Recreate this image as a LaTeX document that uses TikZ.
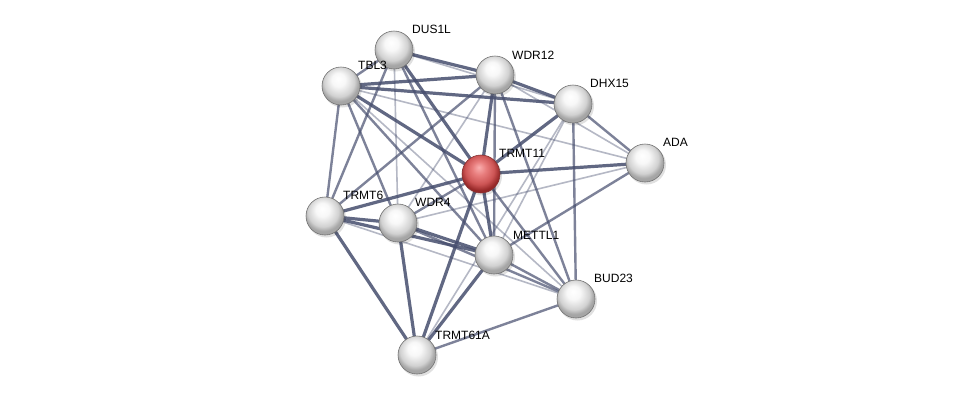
\documentclass[tikz,border=0pt]{standalone}
\usepackage{fontspec}
\setmainfont{Liberation Sans}
\begin{document}
\begin{tikzpicture}[x=1pt,y=-1pt,
  ew/.style={draw=edgec,line width=3.2pt,opacity=0.85},
  em/.style={draw=edgec,line width=2.4pt,opacity=0.7},
  el/.style={draw=edgec,line width=1.6pt,opacity=0.4},
  ball/.style={circle,minimum size=38pt,inner sep=0pt,draw=black!55,line width=0.6pt,shading=wball},
  rball/.style={ball,shading=rball,draw=red!40!black!80},
  lab/.style={font=\fontsize{12}{14}\selectfont,text=black,anchor=south west,inner sep=1pt}]
\definecolor{edgec}{RGB}{70,78,110}
\definecolor{rA}{RGB}{250,175,175}
\definecolor{rB}{RGB}{232,125,125}
\definecolor{rC}{RGB}{205,85,85}
\definecolor{rD}{RGB}{150,40,40}
\pgfdeclareradialshading{wball}{\pgfpoint{-4bp}{10bp}}{color(0bp)=(white); color(9bp)=(white!97!black); color(20bp)=(white!82!black); color(25bp)=(white!65!black); color(50bp)=(white!60!black)}
\pgfdeclareradialshading{rball}{\pgfpoint{-3bp}{9bp}}{color(0bp)=(rA); color(9bp)=(rB); color(19bp)=(rC); color(26bp)=(rD); color(50bp)=(rD)}
\useasboundingbox[fill=white] (0,0) rectangle (976,400);
% node coordinates
\coordinate (cDUS) at (394,50);
\coordinate (cTBL) at (341,86);
\coordinate (cWDR12) at (495,75);
\coordinate (cDHX) at (573,104);
\coordinate (cADA) at (645,163);
\coordinate (cT11) at (481,174);
\coordinate (cT6) at (325,216);
\coordinate (cWDR4) at (398,223);
\coordinate (cMET) at (494,255);
\coordinate (cBUD) at (576,299);
\coordinate (cT61) at (417,355);
% edges
\draw[em] (cDUS) -- (cTBL);
\draw[ew] (cDUS) -- (cWDR12);
\draw[el] (cDUS) -- (cDHX);
\draw[ew] (cDUS) -- (cT11);
\draw[em] (cDUS) -- (cMET);
\draw[em] (cDUS) -- (cT6);
\draw[el] (cDUS) -- (cWDR4);
\draw[ew] (cTBL) -- (cWDR12);
\draw[ew] (cTBL) -- (cDHX);
\draw[ew] (cTBL) -- (cT11);
\draw[em] (cTBL) -- (cT6);
\draw[el] (cTBL) -- (cADA);
\draw[em] (cTBL) -- (cMET);
\draw[em] (cTBL) -- (cWDR4);
\draw[el] (cTBL) -- (cBUD);
\draw[ew] (cWDR12) -- (cT11);
\draw[em] (cWDR12) -- (cMET);
\draw[ew] (cWDR12) -- (cDHX);
\draw[em] (cWDR12) -- (cT6);
\draw[em] (cWDR12) -- (cBUD);
\draw[el] (cWDR12) -- (cADA);
\draw[el] (cWDR12) -- (cWDR4);
\draw[ew] (cDHX) -- (cT11);
\draw[em] (cDHX) -- (cADA);
\draw[em] (cDHX) -- (cBUD);
\draw[el] (cDHX) -- (cMET);
\draw[el] (cDHX) -- (cT61);
\draw[ew] (cT11) -- (cADA);
\draw[ew] (cT11) -- (cT6);
\draw[em] (cT11) -- (cWDR4);
\draw[ew] (cT11) -- (cMET);
\draw[em] (cT11) -- (cBUD);
\draw[ew] (cT11) -- (cT61);
\draw[em] (cADA) -- (cMET);
\draw[el] (cADA) -- (cWDR4);
\draw[ew] (cT6) -- (cWDR4);
\draw[ew] (cT6) -- (cMET);
\draw[ew] (cT6) -- (cT61);
\draw[el] (cT6) -- (cBUD);
\draw[ew] (cWDR4) -- (cMET);
\draw[ew] (cWDR4) -- (cT61);
\draw[em] (cWDR4) -- (cBUD);
\draw[ew] (cMET) -- (cT61);
\draw[em] (cMET) -- (cBUD);
\draw[em] (cBUD) -- (cT61);
% nodes with shadow
\foreach \c in {cDUS,cTBL,cWDR12,cDHX,cADA,cT11,cT6,cWDR4,cMET,cBUD,cT61}
  \fill[black,opacity=0.12] ([xshift=1.5pt,yshift=-2pt]\c) circle (19.5pt);
\node[ball] (DUS) at (cDUS) {};
\node[ball] (TBL) at (cTBL) {};
\node[ball] (WDR12) at (cWDR12) {};
\node[ball] (DHX) at (cDHX) {};
\node[ball] (ADA) at (cADA) {};
\node[rball] (T11) at (cT11) {};
\node[ball] (T6) at (cT6) {};
\node[ball] (WDR4) at (cWDR4) {};
\node[ball] (MET) at (cMET) {};
\node[ball] (BUD) at (cBUD) {};
\node[ball] (T61) at (cT61) {};
% labels
\node[lab] (lDUS) at (411,35) {DUS1L};
\node[lab] (lTBL) at (357,71) {TBL3};
\node[lab] (lWDR12) at (511,61) {WDR12};
\node[lab] (lDHX) at (589,89) {DHX15};
\node[lab] (lADA) at (662,148) {ADA};
\node[lab] (lT11) at (498,159) {TRMT11};
\node[lab] (lT6) at (342,201) {TRMT6};
\node[lab] (lWDR4) at (414,208) {WDR4};
\node[lab] (lMET) at (512,241) {METTL1};
\node[lab] (lBUD) at (593,284) {BUD23};
\node[lab] (lT61) at (434,341) {TRMT61A};
\end{tikzpicture}
\end{document}
